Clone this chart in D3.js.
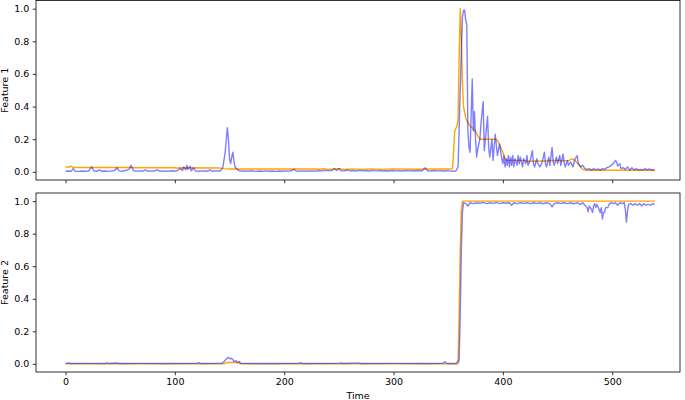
<!DOCTYPE html>
<html lang="en">
<head>
<meta charset="utf-8">
<title>feature traces</title>
<script src="https://cdn.jsdelivr.net/npm/d3@7"></script>
<style>
  body { margin: 0; background: #fff; }
  text { font-family: "DejaVu Sans", sans-serif; }
</style>
</head>
<body>
<script>
// x ticks and y ticks
var xTicks = [0, 100, 200, 300, 400, 500];
var yTicks = [0, 0.2, 0.4, 0.6, 0.8, 1.0];
var panelLabels = ["Feature 1", "Feature 2"];

// Feature 1, target (orange) - [time, value]
var f1Orange = [[0,0.03],[4,0.03],[5,0.036],[7,0.027],[60,0.027],[62,0.025],[100,0.025],[102,0.022],[104,0.025],
  [140,0.024],[145,0.02],[150,0.017],[230,0.017],[232,0.015],[236,0.019],[240,0.015],[250,0.02],[255,0.014],
  [262,0.018],[270,0.015],[280,0.018],[290,0.015],[300,0.018],[320,0.016],[340,0.018],[350,0.017],[354,0.02],
  [356,0.25],[358,0.28],[359,0.32],[360,0.7],[361,1.0],[362,0.8],[363,0.55],[364,0.4],[366,0.33],[368,0.3],
  [370,0.28],[372,0.27],[375,0.25],[377,0.22],[379,0.2],[394,0.2],[396,0.18],[398,0.15],[400,0.12],[402,0.08],
  [404,0.07],[420,0.07],[422,0.065],[440,0.066],[442,0.07],[460,0.068],[463,0.08],[466,0.07],[470,0.04],
  [473,0.015],[476,0.01],[539,0.01]];

// Feature 1, prediction (blue)
var f1Blue = [[0,0.004],[3,0.005],[5,0.003],[7,0.02],[9,0.004],[12,0.003],[15,0.005],[18,0.004],[21,0.005],
  [24,0.03],[26,0.005],[29,0.004],[31,0.012],[33,0.004],[36,0.005],[39,0.003],[42,0.006],[45,0.008],[47,0.025],
  [49,0.006],[52,0.004],[55,0.008],[58,0.015],[60,0.04],[62,0.008],[65,0.004],[68,0.006],[71,0.005],[73,0.012],
  [75,0.004],[78,0.006],[81,0.005],[84,0.012],[86,0.004],[89,0.006],[92,0.004],[95,0.005],[98,0.007],[101,0.004],
  [103,0.01],[105,0.02],[107,0.008],[108,0.03],[110,0.012],[111,0.04],[112,0.015],[114,0.035],[115,0.006],
  [117,0.025],[119,0.005],[122,0.004],[125,0.006],[128,0.005],[130,0.004],[132,0.012],[134,0.004],[137,0.006],
  [140,0.005],[142,0.008],[144,0.03],[146,0.12],[148,0.27],[149,0.2],[150,0.08],[151,0.05],[152,0.09],[153,0.12],
  [154,0.07],[155,0.03],[157,0.015],[159,0.006],[162,0.005],[165,0.004],[168,0.006],[171,0.005],[174,0.003],
  [177,0.005],[180,0.004],[183,0.006],[186,0.004],[189,0.005],[192,0.003],[195,0.005],[198,0.004],[201,0.006],
  [204,0.004],[207,0.008],[209,0.016],[211,0.005],[214,0.004],[217,0.006],[220,0.004],[223,0.005],[226,0.006],
  [229,0.004],[232,0.008],[235,0.006],[238,0.009],[241,0.006],[244,0.01],[246,0.02],[248,0.008],[250,0.02],
  [252,0.007],[255,0.006],[258,0.012],[260,0.006],[263,0.008],[266,0.005],[269,0.009],[272,0.006],[275,0.008],
  [278,0.005],[281,0.009],[284,0.006],[287,0.008],[290,0.005],[293,0.007],[296,0.005],[299,0.008],[302,0.006],
  [305,0.007],[308,0.005],[311,0.008],[314,0.006],[317,0.007],[320,0.005],[323,0.008],[326,0.006],[329,0.025],
  [331,0.007],[334,0.005],[337,0.008],[340,0.006],[343,0.007],[346,0.005],[349,0.007],[352,0.006],[355,0.004],
  [357,0.005],[359,0.03],[361,0.5],[363,0.95],[364,0.99],[365,0.99],[366,0.93],[367,0.9],[368,0.25],[369,0.15],
  [370,0.12],[371,0.35],[372,0.57],[373,0.25],[374,0.37],[375,0.2],[376,0.09],[377,0.14],[379,0.2],[380,0.3],
  [382,0.43],[383,0.13],[384,0.2],[386,0.34],[387,0.15],[388,0.09],[390,0.2],[391,0.07],[393,0.23],[395,0.1],
  [397,0.17],[399,0.08],[400,0.05],[401,0.1],[402,0.03],[403,0.08],[404,0.04],[405,0.1],[406,0.03],[407,0.09],
  [408,0.04],[409,0.1],[410,0.03],[411,0.08],[413,0.04],[414,0.1],[415,0.05],[416,0.09],[418,0.03],[419,0.08],
  [421,0.05],[422,0.1],[423,0.04],[425,0.07],[427,0.13],[428,0.05],[429,0.03],[431,0.08],[432,0.05],[434,0.03],
  [436,0.06],[438,0.12],[439,0.05],[440,0.03],[442,0.09],[443,0.04],[445,0.15],[446,0.06],[447,0.04],[449,0.09],
  [450,0.05],[452,0.1],[453,0.04],[455,0.11],[456,0.06],[457,0.03],[459,0.07],[460,0.04],[462,0.06],[464,0.03],
  [466,0.08],[468,0.1],[469,0.05],[471,0.03],[473,0.04],[475,0.02],[477,0.015],[479,0.02],[481,0.01],[483,0.02],
  [485,0.012],[487,0.018],[489,0.01],[491,0.02],[493,0.015],[495,0.025],[497,0.03],[499,0.04],[501,0.05],
  [503,0.07],[504,0.06],[505,0.035],[507,0.05],[508,0.02],[510,0.025],[512,0.015],[514,0.03],[516,0.01],
  [518,0.025],[520,0.012],[522,0.02],[524,0.01],[526,0.015],[528,0.01],[530,0.02],[532,0.012],[534,0.018],
  [536,0.01],[539,0.012]];

// Feature 2, target (orange)
var f2Orange = [[0,0],[145,0],[147,0.008],[158,0.008],[160,0],[359,0],[360,0.3],[361,0.7],[362,0.95],[363,1.0],[539,1.0]];

// Feature 2, prediction (blue)
var f2Blue = [[0,0.002],[3,0.006],[5,0.002],[20,0.003],[36,0.002],[38,0.006],[40,0.002],[47,0.005],[49,0.002],
  [70,0.003],[90,0.002],[120,0.003],[122,0.007],[124,0.002],[140,0.003],[143,0.003],[145,0.015],[147,0.03],
  [149,0.04],[151,0.03],[152,0.035],[154,0.015],[156,0.02],[157,0.008],[159,0.015],[160,0.003],[190,0.002],
  [213,0.003],[215,0.007],[217,0.002],[250,0.003],[252,0.006],[254,0.002],[268,0.006],[270,0.002],[300,0.003],
  [330,0.002],[345,0.003],[347,0.012],[349,0.002],[357,0.002],[360,0.02],[361,0.3],[362,0.7],[363,0.93],
  [364,0.99],[366,0.985],[368,0.97],[370,0.99],[373,0.985],[376,0.99],[379,0.987],[382,0.992],[385,0.985],
  [388,0.99],[391,0.986],[394,0.992],[397,0.985],[400,0.99],[403,0.987],[406,0.99],[408,0.975],[410,0.99],
  [413,0.985],[416,0.99],[419,0.986],[422,0.99],[425,0.985],[428,0.99],[431,0.986],[434,0.99],[437,0.984],
  [440,0.99],[443,0.985],[445,0.965],[447,0.985],[450,0.99],[453,0.986],[456,0.99],[459,0.985],[462,0.99],
  [465,0.984],[468,0.99],[471,0.98],[473,0.99],[475,0.975],[477,0.96],[478,0.935],[479,0.97],[480,0.96],
  [481,0.95],[482,0.93],[483,0.97],[484,0.985],[485,0.96],[486,0.98],[488,0.95],[489,0.93],[490,0.96],
  [491,0.89],[492,0.93],[493,0.93],[494,0.96],[496,0.96],[497,0.98],[499,0.99],[501,0.985],[503,0.99],
  [505,0.975],[507,0.99],[509,0.985],[511,0.99],[512,0.95],[513,0.87],[514,0.94],[515,0.98],[517,0.985],
  [519,0.975],[521,0.985],[523,0.975],[525,0.985],[527,0.97],[529,0.985],[531,0.975],[533,0.98],[535,0.975],
  [537,0.985],[539,0.98]];

var w = 685, h = 400;
var left = 36, right = 680;
var panels = [
  {top: 0.5, bottom: 180, label: panelLabels[0], orange: f1Orange, blue: f1Blue, showX: false},
  {top: 193, bottom: 372, label: panelLabels[1], orange: f2Orange, blue: f2Blue, showX: true}
];

var svg = d3.select("body").append("svg")
  .attr("width", w)
  .attr("height", h);

var xScale = d3.scaleLinear()
  .domain([-27, 562])
  .range([left, right]);

panels.forEach(function(p) {
  var yScale = d3.scaleLinear()
    .domain([-0.05, 1.05])
    .range([p.bottom, p.top]);

  var line = d3.line()
    .x(function(d) { return xScale(d[0]); })
    .y(function(d) { return yScale(d[1]); });

  var g = svg.append("g");

  g.append("path")
    .datum(p.orange)
    .attr("d", line)
    .attr("fill", "none")
    .attr("stroke", "#ffa500")
    .attr("stroke-width", 1.4)
    .attr("stroke-linejoin", "round");

  g.append("path")
    .datum(p.blue)
    .attr("d", line)
    .attr("fill", "none")
    .attr("stroke", "rgba(0,0,255,0.5)")
    .attr("stroke-width", 1.4)
    .attr("stroke-linejoin", "round");

  // axes
  var xAxis = d3.axisBottom(xScale)
    .tickValues(xTicks)
    .tickSize(3.3)
    .tickPadding(3.3)
    .tickFormat(p.showX ? d3.format("d") : "");

  var yAxis = d3.axisLeft(yScale)
    .tickValues(yTicks)
    .tickSize(3.3)
    .tickPadding(3.3)
    .tickFormat(d3.format(".1f"));

  var gx = g.append("g")
    .attr("transform", "translate(0," + p.bottom + ")")
    .call(xAxis);
  var gy = g.append("g")
    .attr("transform", "translate(" + left + ",0)")
    .call(yAxis);

  [gx, gy].forEach(function(a) {
    a.select(".domain").remove();
    a.selectAll("line").attr("stroke", "#000").attr("stroke-width", 0.8);
    a.selectAll("text").attr("font-size", "9.5px").attr("fill", "#000")
      .attr("font-family", "DejaVu Sans, sans-serif");
  });

  // frame
  g.append("rect")
    .attr("x", left)
    .attr("y", p.top)
    .attr("width", right - left)
    .attr("height", p.bottom - p.top)
    .attr("fill", "none")
    .attr("stroke", "#000")
    .attr("stroke-width", 0.8);

  g.append("text")
    .attr("transform", "translate(8," + ((p.top + p.bottom) / 2) + ") rotate(-90)")
    .attr("text-anchor", "middle")
    .attr("font-size", "9.5px")
    .text(p.label);
});

svg.append("text")
  .attr("x", (left + right) / 2)
  .attr("y", 399)
  .attr("text-anchor", "middle")
  .attr("font-size", "9.5px")
  .text("Time");
</script>
</body>
</html>
